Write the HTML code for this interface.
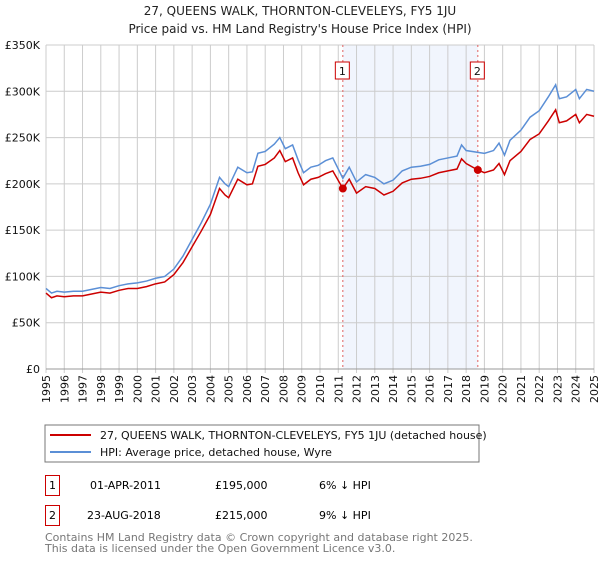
<!DOCTYPE html>
<html><head><meta charset="utf-8"><style>
body{margin:0;background:#fff;font-family:"DejaVu Sans","Liberation Sans",sans-serif;}
svg text{font-family:"DejaVu Sans","Liberation Sans",sans-serif;}
</style></head><body>
<svg id="c" width="600" height="560" xmlns="http://www.w3.org/2000/svg">
<text x="300" y="15" text-anchor="middle" font-size="12" fill="#222">27, QUEENS WALK, THORNTON-CLEVELEYS, FY5 1JU</text>
<text x="300" y="33" text-anchor="middle" font-size="12" fill="#222">Price paid vs. HM Land Registry's House Price Index (HPI)</text>
<g id="grid"></g>
<g id="marks"></g>
<rect x="45" y="425" width="434" height="37" fill="#fff" stroke="#777"/>
<line x1="50" y1="435" x2="91" y2="435" stroke="#cc0000" stroke-width="2"/>
<text x="100" y="439" font-size="11" fill="#111">27, QUEENS WALK, THORNTON-CLEVELEYS, FY5 1JU (detached house)</text>
<line x1="50" y1="452" x2="91" y2="452" stroke="#5b8fd6" stroke-width="2"/>
<text x="100" y="456" font-size="11" fill="#111">HPI: Average price, detached house, Wyre</text>
<g>
<rect x="45.5" y="475.5" width="14" height="20" fill="#fff" stroke="#c00"/>
<text x="52.5" y="489" text-anchor="middle" font-size="11">1</text>
<text x="90" y="489" font-size="11">01-APR-2011</text>
<text x="215" y="489" font-size="11">£195,000</text>
<text x="319" y="489" font-size="11">6% ↓ HPI</text></g>
<g>
<rect x="45.5" y="505.5" width="14" height="20" fill="#fff" stroke="#c00"/>
<text x="52.5" y="519" text-anchor="middle" font-size="11">2</text>
<text x="87" y="519" font-size="11">23-AUG-2018</text>
<text x="215" y="519" font-size="11">£215,000</text>
<text x="319" y="519" font-size="11">9% ↓ HPI</text></g>
<text x="45" y="541" font-size="11" fill="#777">Contains HM Land Registry data © Crown copyright and database right 2025.</text>
<text x="45" y="552" font-size="11" fill="#777">This data is licensed under the Open Government Licence v3.0.</text>
</svg>
<script>
const years=[1995,1995.3,1995.6,1996,1996.5,1997,1997.5,1998,1998.5,1999,1999.5,2000,2000.5,2001,2001.5,2002,2002.5,2003,2003.5,2004,2004.5,2004.8,2005,2005.5,2006,2006.3,2006.6,2007,2007.5,2007.8,2008.1,2008.5,2008.8,2009.1,2009.5,2009.9,2010.3,2010.7,2011.25,2011.6,2012,2012.5,2013,2013.5,2014,2014.5,2015,2015.5,2016,2016.5,2017,2017.5,2017.75,2018,2018.64,2019,2019.5,2019.8,2020.1,2020.4,2021,2021.5,2022,2022.5,2022.9,2023.1,2023.5,2024,2024.2,2024.6,2025];
const hpi=[87,82,84,83,84,84,86,88,87,90,92,93,95,98,100,108,122,140,158,178,207,200,197,218,212,213,233,235,243,250,238,242,226,212,218,220,225,228,206,218,202,210,207,200,204,214,218,219,221,226,228,230,242,236,234,233,236,244,231,247,258,272,279,294,307,292,294,302,292,302,300];
const price=[82,77,79,78,79,79,81,83,82,85,87,87,89,92,94,102,115,132,149,167,195,188,185,205,199,200,219,221,228,236,224,228,212,199,205,207,211,214,195,205,190,197,195,188,192,201,205,206,208,212,214,216,227,222,215,212,215,222,210,225,235,248,254,268,280,266,268,275,266,275,273];
const saleYears=[2011.25,2018.64];
const saleValues=[195,215];
const saleLabels=["1","2"];
const yTicks=[0,50,100,150,200,250,300,350];
const yTickLabels=["£0","£50K","£100K","£150K","£200K","£250K","£300K","£350K"];
const xTicks=[1995,1996,1997,1998,1999,2000,2001,2002,2003,2004,2005,2006,2007,2008,2009,2010,2011,2012,2013,2014,2015,2016,2017,2018,2019,2020,2021,2022,2023,2024,2025];
const NS="http://www.w3.org/2000/svg";
const X0=46,X1=594,Y0=369,Y1=45;
const xs=y=>X0+(y-1995)/30*(X1-X0);
const ys=v=>Y0-v/350*(Y0-Y1);
function mk(t,a,p){const e=document.createElementNS(NS,t);for(const k in a)e.setAttribute(k,a[k]);p.appendChild(e);return e;}
const g=document.getElementById('grid'),m=document.getElementById('marks');
const shade=mk('rect',{x:xs(saleYears[0]),y:Y1,width:xs(saleYears[1])-xs(saleYears[0]),height:Y0-Y1,fill:'#eef3fd',opacity:0.8},g);


yTicks.forEach((v,i)=>{
 const l=mk('line',{x1:X0,x2:X1,y1:ys(v),y2:ys(v),stroke:'#ccc'},g);
 
 
 const t=mk('text',{x:X0-6,y:ys(v)+4,'text-anchor':'end','font-size':11,fill:'#111'},g);
 t.textContent=yTickLabels[i];
 
 
});
xTicks.forEach(y=>{
 const l=mk('line',{x1:xs(y),x2:xs(y),y1:Y1,y2:Y0+4,stroke:'#ccc'},g);
 
 
 const t=mk('text',{transform:`translate(${xs(y)+4},${Y0+6}) rotate(-90)`,'text-anchor':'end','font-size':11,fill:'#111'},g);
 t.textContent=y;
 
 
});
const ax=mk('line',{x1:X0,x2:X1,y1:Y0,y2:Y0,stroke:'#999'},g);


saleYears.forEach((y,i)=>{
 const l=mk('line',{x1:xs(y),x2:xs(y),y1:Y1,y2:Y0,stroke:'#e06060','stroke-dasharray':'2,3'},m);
 
 
});
const line=(vals,col,name)=>{
 const p=mk('polyline',{points:years.map((y,i)=>xs(y)+','+ys(vals[i])).join(' '),fill:'none',stroke:col,'stroke-width':1.5},m);
 
 
};
line(hpi,'#5b8fd6','hpi-line');
line(price,'#cc0000','price-line');
saleYears.forEach((y,i)=>{
 const c=mk('circle',{cx:xs(y),cy:ys(saleValues[i]),r:4,fill:'#cc0000'},m);
 
 
 const r=mk('rect',{x:xs(y)-7.5,y:62,width:14,height:17,fill:'#fff',stroke:'#c00'},m);
 
 
 const t=mk('text',{x:xs(y)-0.5,y:75,'text-anchor':'middle','font-size':11,fill:'#111'},m);
 t.textContent=saleLabels[i];
 
 
});
</script>
</body></html>
